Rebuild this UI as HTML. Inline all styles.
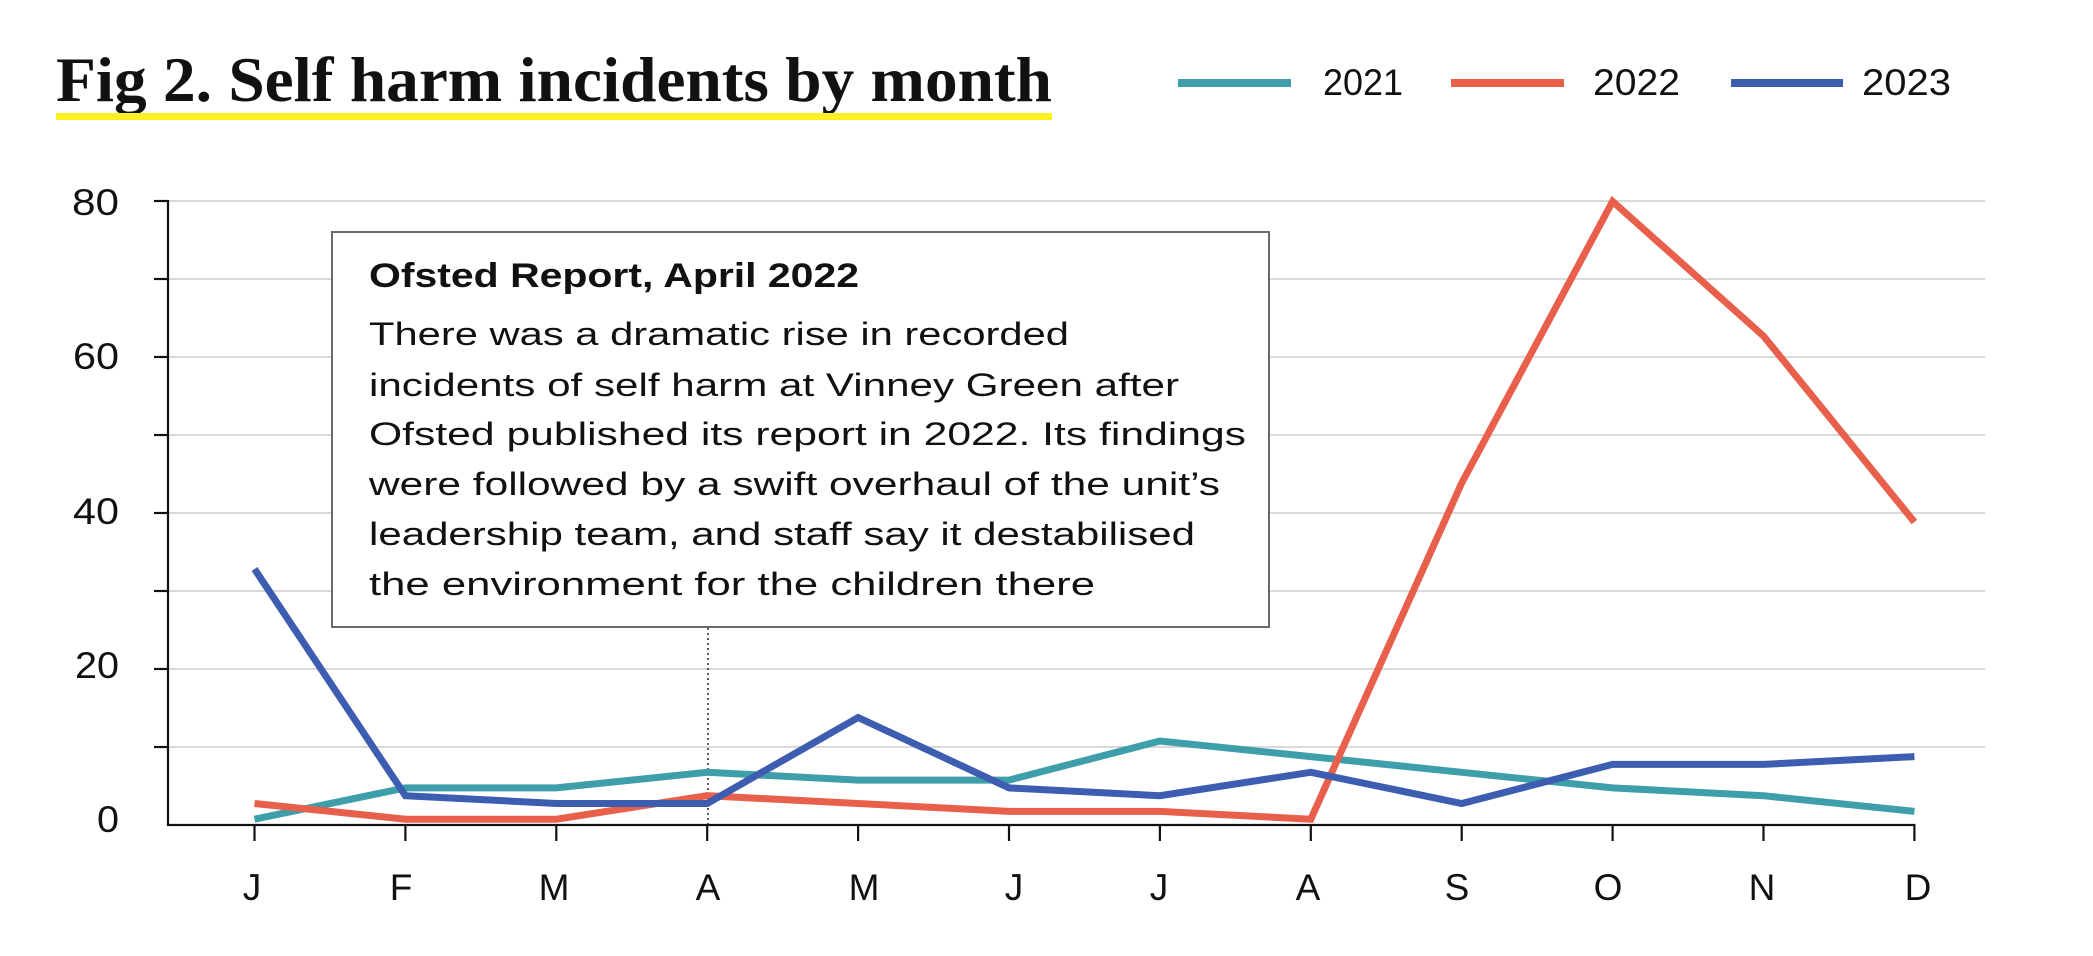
<!DOCTYPE html>
<html>
<head>
<meta charset="utf-8">
<style>
  html, body { margin: 0; padding: 0; background: #ffffff; }
  body { width: 2093px; height: 956px; overflow: hidden; }
  svg { display: block; }
  .num { font-family: "Liberation Sans", "DejaVu Sans", sans-serif; font-size: 37px; fill: #111; }
  .body { font-family: "Liberation Sans", "DejaVu Sans", sans-serif; font-size: 32px; fill: #111; }
</style>
</head>
<body>
<svg width="2093" height="956" viewBox="0 0 2093 956" xmlns="http://www.w3.org/2000/svg">
  <rect x="0" y="0" width="2093" height="956" fill="#ffffff"/>

  <!-- Title -->
  <text x="56" y="101" font-family="'Liberation Serif', 'DejaVu Serif', serif" font-weight="bold" font-size="64" fill="#111" textLength="996" lengthAdjust="spacingAndGlyphs">Fig 2. Self harm incidents by month</text>
  <rect x="56" y="113" width="996" height="7" fill="#fff01f"/>

  <!-- Legend -->
  <rect x="1178" y="79" width="113" height="8" fill="#3e9faa"/>
  <text class="num" x="1323" y="95" textLength="80" lengthAdjust="spacingAndGlyphs">2021</text>
  <rect x="1451" y="79" width="113" height="8" fill="#e8604c"/>
  <text class="num" x="1593" y="95" textLength="87" lengthAdjust="spacingAndGlyphs">2022</text>
  <rect x="1731" y="79" width="112" height="8" fill="#3c5db0"/>
  <text class="num" x="1862" y="95" textLength="89" lengthAdjust="spacingAndGlyphs">2023</text>

  <!-- Gridlines -->
  <g stroke="#dadada" stroke-width="2">
    <line x1="168" y1="201" x2="1985" y2="201"/>
    <line x1="168" y1="279" x2="1985" y2="279"/>
    <line x1="168" y1="357" x2="1985" y2="357"/>
    <line x1="168" y1="435" x2="1985" y2="435"/>
    <line x1="168" y1="513" x2="1985" y2="513"/>
    <line x1="168" y1="591" x2="1985" y2="591"/>
    <line x1="168" y1="669" x2="1985" y2="669"/>
    <line x1="168" y1="747" x2="1985" y2="747"/>
  </g>

  <!-- Y axis + ticks -->
  <g stroke="#111" stroke-width="2.2">
    <line x1="168" y1="200" x2="168" y2="826"/>
    <line x1="154" y1="201" x2="168" y2="201"/>
    <line x1="154" y1="279" x2="168" y2="279"/>
    <line x1="154" y1="357" x2="168" y2="357"/>
    <line x1="154" y1="435" x2="168" y2="435"/>
    <line x1="154" y1="513" x2="168" y2="513"/>
    <line x1="154" y1="591" x2="168" y2="591"/>
    <line x1="154" y1="669" x2="168" y2="669"/>
    <line x1="154" y1="747" x2="168" y2="747"/>
  </g>

  <!-- Y labels -->
  <g class="num">
    <text x="72" y="215" textLength="47" lengthAdjust="spacingAndGlyphs">80</text>
    <text x="73" y="369" textLength="46" lengthAdjust="spacingAndGlyphs">60</text>
    <text x="73" y="524" textLength="46" lengthAdjust="spacingAndGlyphs">40</text>
    <text x="75" y="678" textLength="44" lengthAdjust="spacingAndGlyphs">20</text>
    <text x="97" y="832" textLength="22" lengthAdjust="spacingAndGlyphs">0</text>
  </g>

  <!-- Annotation box -->
  <rect x="332" y="232" width="937" height="395" fill="#ffffff" stroke="#6a6a6a" stroke-width="2"/>
  <text x="369" y="287" font-family="'Liberation Sans', 'DejaVu Sans', sans-serif" font-weight="bold" font-size="34" fill="#111" textLength="490" lengthAdjust="spacingAndGlyphs">Ofsted Report, April 2022</text>
  <text class="body" x="369" y="345" textLength="700" lengthAdjust="spacingAndGlyphs">There was a dramatic rise in recorded</text>
  <text class="body" x="369" y="396" textLength="810" lengthAdjust="spacingAndGlyphs">incidents of self harm at Vinney Green after</text>
  <text class="body" x="369" y="445" textLength="877" lengthAdjust="spacingAndGlyphs">Ofsted published its report in 2022. Its findings</text>
  <text class="body" x="369" y="495" textLength="851" lengthAdjust="spacingAndGlyphs">were followed by a swift overhaul of the unit’s</text>
  <text class="body" x="369" y="545" textLength="826" lengthAdjust="spacingAndGlyphs">leadership team, and staff say it destabilised</text>
  <text class="body" x="369" y="595" textLength="726" lengthAdjust="spacingAndGlyphs">the environment for the children there</text>

  <!-- Dotted marker line -->
  <line x1="708" y1="628" x2="708" y2="825" stroke="#333" stroke-width="1.6" stroke-dasharray="2 3"/>

  <!-- Series -->
  <g fill="none" stroke-width="7" stroke-linejoin="miter" stroke-linecap="butt">
    <polyline stroke="#3e9faa" points="254.5,819.2 405.4,787.9 556.3,787.9 707.2,772.3 858.1,780.1 1009,780.1 1159.9,741 1310.8,756.6 1461.7,772.3 1612.6,787.9 1763.5,795.7 1914.4,811.4"/>
    <polyline stroke="#e8604c" points="254.5,803.5 405.4,819.2 556.3,819.2 707.2,795.7 858.1,803.5 1009,811.4 1159.9,811.4 1310.8,819.2 1461.7,483 1612.6,201.4 1763.5,336 1914.4,522"/>
    <polyline stroke="#3c5db0" points="254.5,569 405.4,795.7 556.3,803.5 707.2,803.5 858.1,717.5 1009,787.9 1159.9,795.7 1310.8,772.3 1461.7,803.5 1612.6,764.4 1763.5,764.4 1914.4,756.6"/>
  </g>

  <!-- X axis + ticks -->
  <g stroke="#111" stroke-width="2.2">
    <line x1="167" y1="825" x2="1915.5" y2="825"/>
    <line x1="254.5" y1="825" x2="254.5" y2="841"/>
    <line x1="405.4" y1="825" x2="405.4" y2="841"/>
    <line x1="556.3" y1="825" x2="556.3" y2="841"/>
    <line x1="707.2" y1="825" x2="707.2" y2="841"/>
    <line x1="858.1" y1="825" x2="858.1" y2="841"/>
    <line x1="1009" y1="825" x2="1009" y2="841"/>
    <line x1="1159.9" y1="825" x2="1159.9" y2="841"/>
    <line x1="1310.8" y1="825" x2="1310.8" y2="841"/>
    <line x1="1461.7" y1="825" x2="1461.7" y2="841"/>
    <line x1="1612.6" y1="825" x2="1612.6" y2="841"/>
    <line x1="1763.5" y1="825" x2="1763.5" y2="841"/>
    <line x1="1914.4" y1="825" x2="1914.4" y2="841"/>
  </g>

  <!-- Month labels -->
  <g class="num" text-anchor="middle">
    <text x="252" y="900">J</text>
    <text x="401" y="900">F</text>
    <text x="554" y="900">M</text>
    <text x="708" y="900">A</text>
    <text x="864" y="900">M</text>
    <text x="1014" y="900">J</text>
    <text x="1159" y="900">J</text>
    <text x="1308" y="900">A</text>
    <text x="1457" y="900">S</text>
    <text x="1608" y="900">O</text>
    <text x="1762" y="900">N</text>
    <text x="1918" y="900">D</text>
  </g>
</svg>
</body>
</html>
